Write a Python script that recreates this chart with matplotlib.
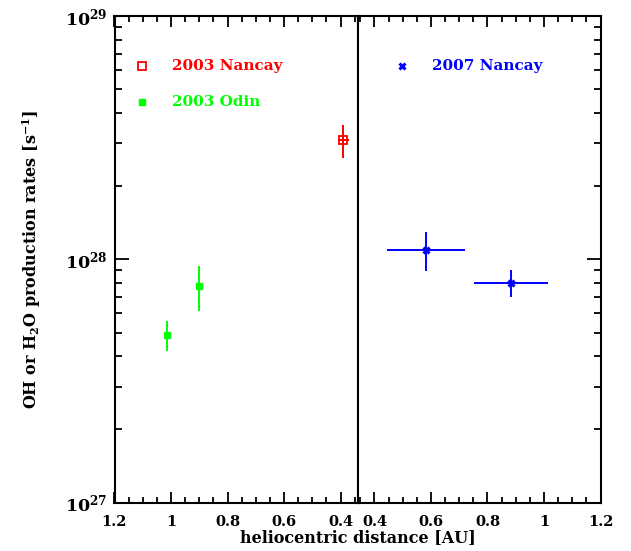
import matplotlib
matplotlib.use("Agg")
import matplotlib.pyplot as plt
from matplotlib.ticker import MultipleLocator, LogLocator, NullFormatter

plt.rcParams["font.family"] = "DejaVu Serif"
plt.rcParams["font.weight"] = "bold"
plt.rcParams["axes.labelweight"] = "bold"
plt.rcParams["mathtext.fontset"] = "dejavuserif"
plt.rcParams["mathtext.default"] = "bf"

# 2003 observations (left panel, pre-perihelion)
nancay03_r = [0.39]
nancay03_q = [3.09e28]
nancay03_qerr = [0.49e28]
nancay03_rerr = [0.02]

odin03_r = [1.015, 0.90]
odin03_q = [4.88e27, 7.76e27]
odin03_qerr = [0.70e27, 1.62e27]

# 2007 observations (right panel)
nancay07_r = [0.582, 0.884]
nancay07_q = [1.092e28, 8.01e27]
nancay07_qerr = [0.20e28, 1.03e27]
nancay07_rerr = [0.137, 0.13]

xticks = [0.4, 0.6, 0.8, 1.0, 1.2]
xticklabels = ["0.4", "0.6", "0.8", "1", "1.2"]

fig = plt.figure(figsize=(6.31, 5.51), dpi=100)
W, H = 631.0, 551.0
left = fig.add_axes([114.5 / W, 48.4 / H, 243 / W, 486.6 / H])
right = fig.add_axes([357.5 / W, 48.4 / H, 243 / W, 486.6 / H], sharey=left)

lw = 1.5
for ax in (left, right):
    ax.set_yscale("log")
    ax.set_ylim(1e27, 1e29)
    ax.set_xticks(xticks)
    ax.set_xticklabels(xticklabels)
    ax.xaxis.set_minor_locator(MultipleLocator(0.05))
    ax.yaxis.set_major_locator(LogLocator(base=10))
    ax.yaxis.set_minor_locator(LogLocator(base=10, subs=range(2, 10)))
    ax.yaxis.set_minor_formatter(NullFormatter())
    for s in ax.spines.values():
        s.set_linewidth(lw)
    ax.tick_params(which="both", direction="in", top=True, width=1.3)
    ax.tick_params(axis="x", labelsize=10.5)
    ax.tick_params(axis="x", which="major", length=8, pad=9)
    ax.tick_params(axis="x", which="minor", length=4)

left.set_xlim(1.2, 0.34)
right.set_xlim(0.34, 1.2)
left.tick_params(axis="y", which="both", left=True, right=False, labelsize=12.5)
left.tick_params(axis="y", which="major", length=10, pad=5)
left.tick_params(axis="y", which="minor", length=5)
right.tick_params(axis="y", which="both", left=False, right=True, labelleft=False)
right.tick_params(axis="y", which="major", length=10)
right.tick_params(axis="y", which="minor", length=5)

left.errorbar(nancay03_r, nancay03_q, yerr=nancay03_qerr, xerr=nancay03_rerr,
              fmt="s", mfc="none", mec="red", ecolor="red", ms=5.5, mew=1.3,
              elinewidth=1.4, capsize=0)
left.errorbar(odin03_r, odin03_q, yerr=odin03_qerr, fmt="s", color="#00ff00",
              ms=5, elinewidth=1.4, capsize=0)
right.errorbar(nancay07_r, nancay07_q, yerr=nancay07_qerr, xerr=nancay07_rerr,
               fmt="x", color="blue", ms=5, mew=2.2, elinewidth=1.4, capsize=0)

# legend entries drawn by hand
left.plot([0.113], [0.897], "s", mfc="none", mec="red", ms=5.5, mew=1.3,
          transform=left.transAxes)
left.text(0.235, 0.897, "2003 Nancay", color="red", fontsize=11,
          va="center", transform=left.transAxes)
left.plot([0.113], [0.823], "s", color="#00ff00", ms=5, transform=left.transAxes)
left.text(0.235, 0.823, "2003 Odin", color="#00ff00", fontsize=11,
          va="center", transform=left.transAxes)
right.plot([0.183], [0.897], "x", color="blue", ms=5, mew=2.2,
           transform=right.transAxes)
right.text(0.307, 0.897, "2007 Nancay", color="blue", fontsize=11,
           va="center", transform=right.transAxes)

left.set_ylabel("OH or H$_2$O production rates [s$^{-1}$]", fontsize=11.5,
                fontweight="bold", labelpad=16)
fig.text(357.5 / W, 1 - 538 / H, "heliocentric distance [AU]", ha="center",
         va="center", fontsize=11.5)

plt.savefig("out.png", dpi=100)
